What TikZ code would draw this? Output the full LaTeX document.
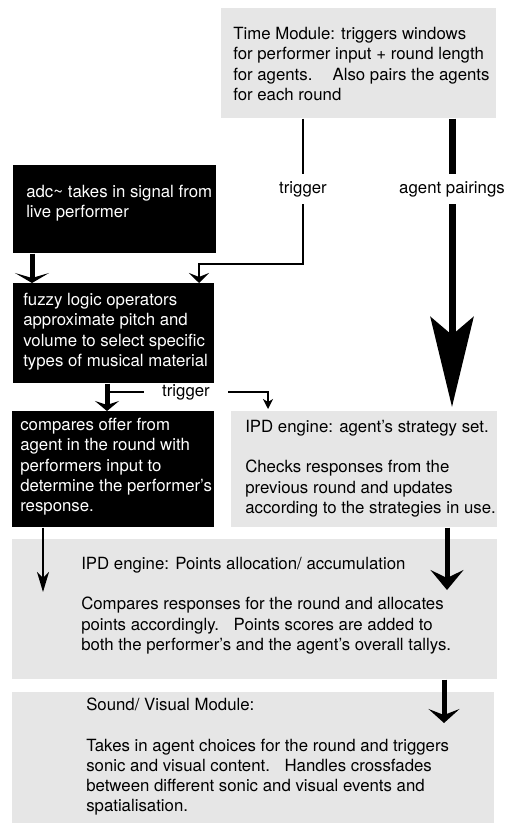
\documentclass[tikz,border=0pt]{standalone}
\usepackage{fontspec}
\setmainfont{TeX Gyre Heros}
\usepackage{tikz}
\usetikzlibrary{calc}
\usetikzlibrary{arrows.meta}
\newlength{\px}
\setlength{\px}{0.75pt}
\definecolor{boxgrey}{HTML}{E6E6E6}
\tikzset{
  greybox/.style={fill=boxgrey, draw=none, anchor=north west, inner sep=0pt},
  blackbox/.style={fill=black, draw=none, anchor=north west, inner sep=0pt},
  boxtext/.style={anchor=north west, inner sep=0pt, align=left, font=\fontsize{12.6}{15.2}\selectfont},
  lbl/.style={inner xsep=18\px, inner ysep=7\px, font=\fontsize{12.6}{15.2}\selectfont},
  thinline/.style={line width=1.5\px},
  thickline/.style={line width=5\px},
}

\begin{document}
\begin{tikzpicture}[x=0.75pt, y=-0.75pt]
  \useasboundingbox (0,0) rectangle (506,823);

  % boxes
  \node[greybox, minimum width=275\px, minimum height=110\px] (timemod) at (221,8) {};
  \node[blackbox, minimum width=203\px, minimum height=88\px] (adc) at (13,165) {};
  \node[blackbox, minimum width=201\px, minimum height=100\px] (fuzzy) at (13,283) {};
  \node[blackbox, minimum width=202\px, minimum height=116\px] (compare) at (12,411) {};
  \node[greybox, minimum width=266\px, minimum height=116\px] (strategy) at (231,411) {};
  \node[greybox, minimum width=485\px, minimum height=140\px] (points) at (12,539) {};
  \node[greybox, minimum width=482\px, minimum height=131\px] (sound) at (12,692) {};

  % texts
  \node[boxtext] (timemod-txt) at ([shift={(12,19)}]timemod.north west)
    {Time Module: triggers windows\\for performer input + round length\\for agents.\hspace{1.2em}Also pairs the agents\\for each round};
  \node[boxtext, text=white] (adc-txt) at ([shift={(13,20)}]adc.north west)
    {adc\char`~\ takes in signal from\\live performer};
  \node[boxtext, text=white] (fuzzy-txt) at ([shift={(10,10)}]fuzzy.north west)
    {fuzzy logic operators\\approximate pitch and\\volume to select specific\\types of musical material};
  \node[boxtext, text=white] (compare-txt) at ([shift={(8,7)}]compare.north west)
    {compares offer from\\agent in the round with\\performers input to\\determine the performer's\\response.};
  \node[boxtext] (strategy-txt) at ([shift={(14,9)}]strategy.north west)
    {IPD engine: agent's strategy set.\\[15pt]Checks responses from the\\previous round and updates\\according to the strategies in use.};
  \node[boxtext] (points-txt) at ([shift={(69,18)}]points.north west)
    {IPD engine: Points allocation/ accumulation\\[15pt]Compares responses for the round and allocates\\points accordingly.\hspace{0.5em} Points scores are added to\\both the performer's and the agent's overall tallys.};
  \node[boxtext] (sound-txt) at ([shift={(74,6)}]sound.north west)
    {Sound/ Visual Module:\\[15pt]Takes in agent choices for the round and triggers\\sonic and visual content.\hspace{0.5em} Handles crossfades\\between different sonic and visual events and\\spatialisation.};

  % labels
  \node[lbl] (trigtop) at (303,189) {trigger};
  \node[lbl] (pairs) at (452,189) {agent pairings};
  \node[lbl] (trigmid) at (186,392) {trigger};

  % connectors
  \draw[thinline] (trigtop.north |- timemod.south) -- (trigtop.north);
  \draw[thinline, -{Stealth[length=7.5pt, width=15pt, inset=3pt]}]
    (trigtop.south) -- ++(0,60) -| ([xshift=186\px]fuzzy.north west);
  \draw[line width=7\px] (pairs.north |- timemod.south) -- (pairs.north);
  \draw[line width=7\px, -{Stealth[length=67.5pt, width=32.25pt, inset=13.5pt]}]
    (pairs.south) -- ([yshift=4\px]pairs.south |- strategy.north);
  \draw[thickline, -{Stealth[length=7.5pt, width=25.5pt, inset=3.75pt]}]
    ([xshift=19\px]adc.south west) -- ([xshift=19\px]fuzzy.north west);
  \draw[thickline, -{Stealth[length=7.5pt, width=18pt, inset=3pt]}]
    ([xshift=94\px]fuzzy.south west) -- ([xshift=95\px]compare.north west);
  \draw[thinline] ([xshift=94\px]fuzzy.south west |- trigmid.west) -- (trigmid.west);
  \draw[thinline, -{Stealth[length=7.5pt, width=7.5pt, inset=2.25pt]}]
    (trigmid.east) -| ([xshift=37\px, yshift=2\px]strategy.north west);
  \draw[thinline, -{Stealth[length=15pt, width=9pt, inset=4.5pt]}]
    ([xshift=31\px]compare.south west) -- ([xshift=31\px, yshift=-53\px]points.north west);
  \draw[thickline, -{Stealth[length=15pt, width=24.75pt, inset=6pt]}]
    ([xshift=216\px]strategy.south west) -- ([xshift=435\px, yshift=-51\px]points.north west);
  \draw[thickline, -{Stealth[length=10.5pt, width=23.25pt, inset=4.5pt]}]
    ([xshift=432\px]points.south west) -- ([xshift=432\px, yshift=-31\px]sound.north west);
\end{tikzpicture}
\end{document}
